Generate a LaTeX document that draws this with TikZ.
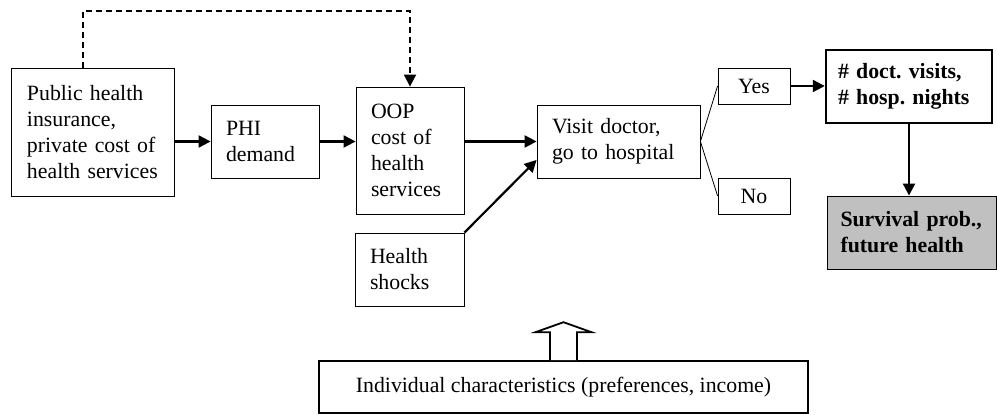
\documentclass[tikz,border=0pt]{standalone}
\usepackage{fontspec}
\setmainfont{Liberation Serif}
\usetikzlibrary{calc,arrows.meta}
\definecolor{shade}{RGB}{192,192,192}
\newcommand{\boxfont}{\fontsize{21.8}{26}\selectfont\frenchspacing}
\tikzset{
  box/.style     = {shape=rectangle, draw, line width=0.8pt, anchor=center,
                    align=left, inner xsep=15pt, inner ysep=0pt,
                    font=\boxfont},
  answer/.style  = {box, align=center, inner xsep=0pt,
                    minimum width=72pt, minimum height=36pt},
  outcome/.style = {box, line width=2.4pt, font=\boxfont\bfseries},
  result/.style  = {outcome, line width=0.9pt, fill=shade},
  flow/.style    = {line width=2.2pt, -{Triangle[length=12pt,width=12pt]}},
  branch/.style  = {line width=0.8pt},
  hollow/.style  = {line width=1.8pt, fill=white, line join=miter}
}

\begin{document}
\begin{tikzpicture}[x=1pt,y=1pt]
  \useasboundingbox (0,0) rectangle (997,415);

  \node[box, text width=131pt, inner xsep=16pt, minimum height=128pt] (public) at (92.5,283)
    {Public health\\ insurance,\\ private cost of\\ health services};
  \node[box, text width=78pt, minimum height=73pt] (phi) at (265,273.5) {PHI\\ demand};
  \node[box, text width=78pt, minimum height=127pt] (oop) at (410,264.5)
    {OOP\\ cost of\\ health\\ services};
  \node[box, text width=79pt, minimum height=73pt] (shocks) at (409.5,145.5) {Health\\ shocks};
  \node[box, text width=133pt, minimum height=73pt] (visit) at (618.5,273.5)
    {Visit doctor,\\ go to hospital};
  \node[answer] (yes) at (754,329) {Yes};
  \node[answer] (no)  at (754,219) {No};
  \node[outcome, text width=142pt, inner xsep=12pt, minimum height=73pt] (visits) at (909,328.5)
    {\# doct. visits,\\ \# hosp. nights};
  \node[result, text width=142pt, inner xsep=13.5pt, minimum height=73pt] (survival) at (911.5,182.5)
    {Survival prob.,\\ future health};
  \node[box, align=center, minimum width=489pt, minimum height=52pt, line width=1.6pt] (indiv)
    at (563.5,28) {Individual characteristics (preferences, income)};

  \coordinate (dashtop) at (0,404);
  \coordinate (tip) at ([yshift=38pt]indiv.north);

  \draw[flow] (public.east |- phi.west) -- (phi.west);
  \draw[flow] (phi.east) -- (oop.west |- phi.east);
  \draw[flow] (oop.east |- visit.west) -- (visit.west);
  \draw[flow] (shocks.north east) -- ($(visit.south west)!0.25!(visit.north west)$);
  \draw[flow, dash pattern=on 6pt off 4pt, line width=1.8pt]
    ([xshift=-9.5pt]public.north) |- (dashtop -| oop.north) -- (oop.north);

  \draw[branch] (visit.east) -- (yes.west)
                (visit.east) -- (no.west);
  \draw[flow] (yes.east) -- (visits.west |- yes.east);
  \draw[flow] (visits.south) -- (visits.south |- survival.north);

  % hollow arrow from the characteristics box
  \draw[hollow] ([xshift=-13.5pt]indiv.north) |- ++(-14.5,28) -- (tip)
    -- ++(28,-10) -- ++(-14.5,0) -- ++(0,-28);
\end{tikzpicture}
\end{document}
